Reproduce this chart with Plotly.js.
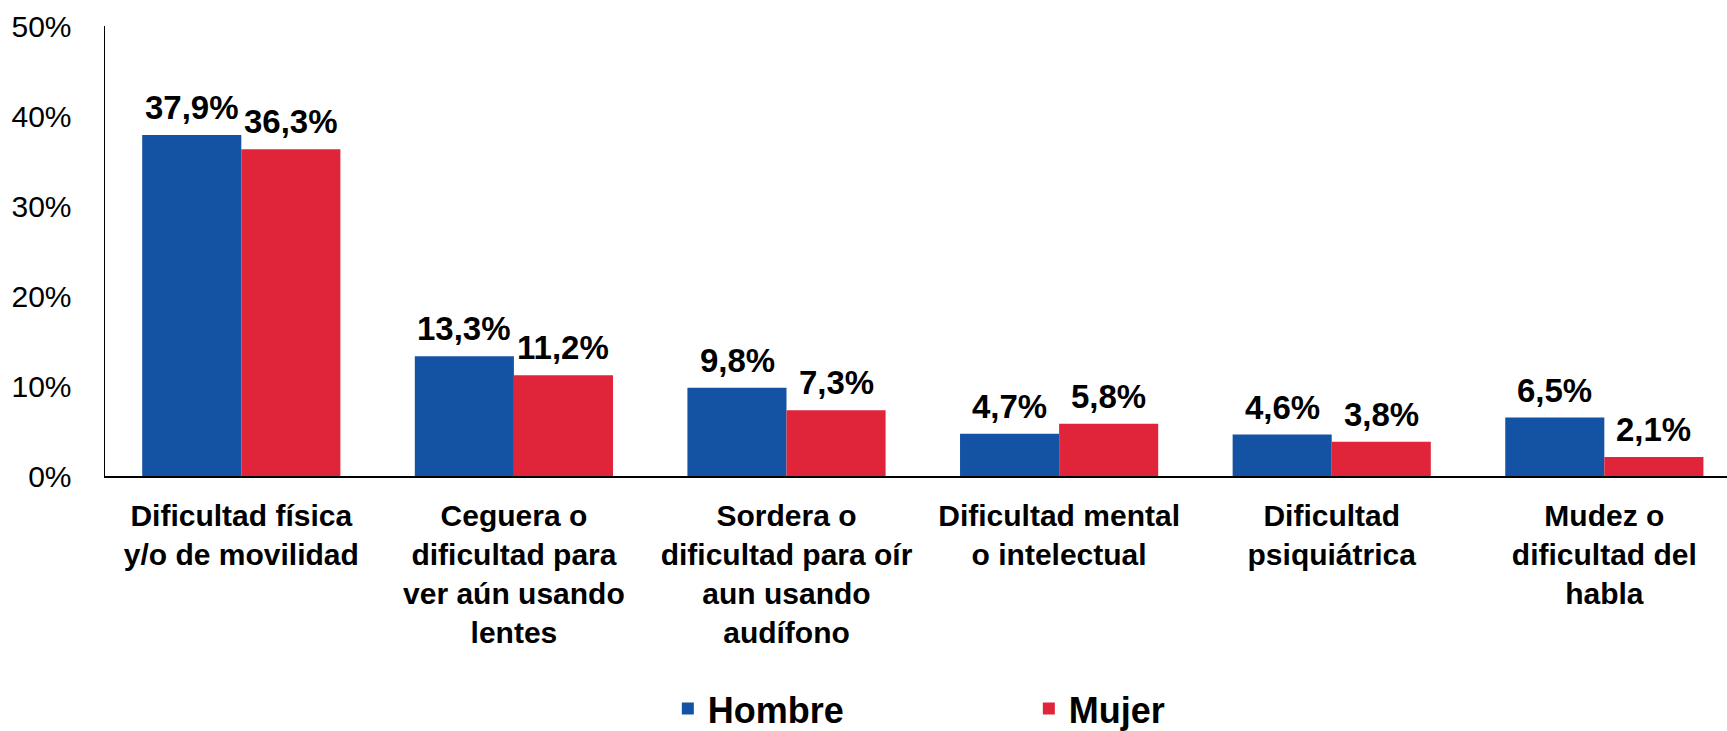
<!DOCTYPE html>
<html>
<head>
<meta charset="utf-8">
<script src="https://cdn.plot.ly/plotly-3.0.1.min.js"></script>
<style>
html,body{margin:0;padding:0;background:#fff;}
#chart{width:1727px;height:731px;}
</style>
</head>
<body>
<div id="chart"></div>
<script>
const categories = [
  "Dificultad física<br>y/o de movilidad",
  "Ceguera o<br>dificultad para<br>ver aún usando<br>lentes",
  "Sordera o<br>dificultad para oír<br>aun usando<br>audífono",
  "Dificultad mental<br>o intelectual",
  "Dificultad<br>psiquiátrica",
  "Mudez o<br>dificultad del<br>habla"
];
const hombre = [37.9, 13.3, 9.8, 4.7, 4.6, 6.5];
const mujer = [36.3, 11.2, 7.3, 5.8, 3.8, 2.1];
const seriesNames = ["Hombre", "Mujer"];
const seriesColors = ["#1453A4", "#E02439"];
const yTicks = [0, 10, 20, 30, 40, 50];

const FONT = "Liberation Sans, Arial, sans-serif";
const fmt = v => v.toFixed(1).replace('.', ',') + '%';

const series = [hombre, mujer];
const traces = series.map((vals, i) => ({
  type: 'bar',
  name: seriesNames[i],
  x: categories,
  y: vals,
  marker: {color: seriesColors[i], line: {width: 0}},
  hoverinfo: 'skip'
}));

const annotations = [];
series.forEach((vals, i) => {
  vals.forEach((v, j) => {
    annotations.push({
      x: categories[j], y: v, xref: 'x', yref: 'y',
      text: fmt(v), showarrow: false,
      xshift: (i === 0 ? -49.5 : 49.5), yshift: 7,
      yanchor: 'bottom', xanchor: 'center',
      font: {family: FONT, size: 33, color: '#000', weight: 'bold'}
    });
  });
});

const layout = {
  width: 1727, height: 731,
  margin: {l: 105, r: 0, t: 26, b: 255, pad: 0, autoexpand: false},
  paper_bgcolor: '#fff', plot_bgcolor: '#fff',
  barmode: 'group', bargap: 0.273, bargroupgap: 0,
  showlegend: true,
  legend: {
    orientation: 'h', x: 0.347, xanchor: 'left', y: -0.517, yanchor: 'middle',
    font: {family: FONT, size: 36, color: '#000', weight: 'bold'},
    entrywidth: 316, entrywidthmode: 'pixels', traceorder: 'normal'
  },
  xaxis: {
    type: 'category', range: [-0.5, 5.45],
    showline: true, linecolor: '#000', linewidth: 1.5,
    ticks: '', showgrid: false, zeroline: false,
    tickfont: {family: FONT, size: 30, color: '#000', weight: 'bold'},
    ticklabelstandoff: 12,
    fixedrange: true
  },
  yaxis: {
    range: [0, 50], tickvals: yTicks, ticktext: yTicks.map(t => t + '%'),
    showline: true, linecolor: '#000', linewidth: 1.5,
    ticks: '', showgrid: false, zeroline: false,
    tickfont: {family: FONT, size: 30, color: '#000'},
    ticklabelstandoff: 26,
    fixedrange: true
  },
  annotations: annotations
};

Plotly.newPlot('chart', traces, layout, {displayModeBar: false, staticPlot: true});
</script>
</body>
</html>
